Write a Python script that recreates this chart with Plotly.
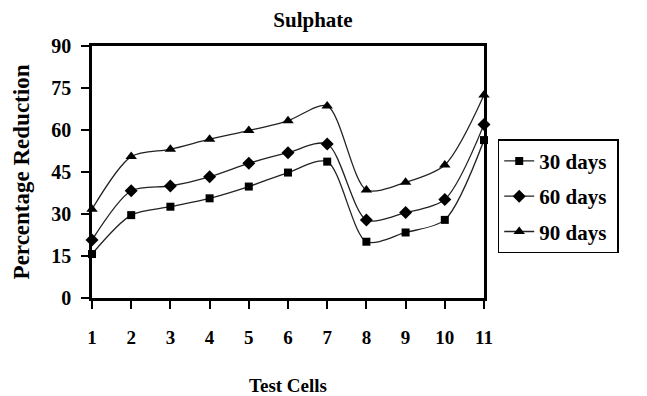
import plotly.graph_objects as go

cells = [1, 2, 3, 4, 5, 6, 7, 8, 9, 10, 11]
days30 = [15.7, 29.6, 32.6, 35.6, 39.8, 44.8, 48.7, 20.1, 23.4, 27.9, 56.4]
days60 = [20.7, 38.3, 40.0, 43.3, 48.1, 51.9, 55.0, 27.9, 30.5, 35.2, 62.0]
days90 = [31.7, 50.5, 53.1, 56.7, 59.8, 63.3, 68.6, 38.6, 41.3, 47.5, 72.5]
y_ticks = [0, 15, 30, 45, 60, 75, 90]

font = "Liberation Serif"
fig = go.Figure()
for name, vals, sym, sz in [("30 days", days30, "square", 8),
                            ("60 days", days60, "diamond", 10),
                            ("90 days", days90, "triangle-up", 10)]:
    fig.add_trace(go.Scatter(
        x=cells, y=vals, name=f"<b>{name}</b>&nbsp;", mode="lines+markers",
        legendgroup=name,
        line=dict(color="#222", width=1.3, shape="spline", smoothing=0.8),
        marker=dict(symbol=sym, size=sz, color="black"),
        cliponaxis=False,
    ))

fig.update_layout(
    width=647, height=396,
    margin=dict(l=92, r=163, t=46, b=98, autoexpand=False),
    paper_bgcolor="white", plot_bgcolor="white",
    font=dict(family=font, color="black"),
    title=dict(text="<b>Sulphate</b>", x=313/647, xanchor="center",
               y=1 - 20/396, yanchor="middle", font=dict(size=21, family=font)),
    showlegend=True,
    legend=dict(x=1.035, y=0.63, xanchor="left", yanchor="top",
                bordercolor="black", borderwidth=1.5,
                font=dict(size=21, family=font), tracegroupgap=5,
                itemwidth=30),
    xaxis=dict(range=[1, 11], tickvals=cells, ticktext=[f"<b>{c}</b>" for c in cells],
               ticks="outside", ticklen=8, tickwidth=2, tickcolor="black",
               showline=True, linecolor="black", linewidth=2.5, mirror=True,
               showgrid=False, zeroline=False, ticklabelstandoff=12, automargin=False,
               tickfont=dict(size=19, family=font),
               title=dict(text="<b>Test Cells</b>", font=dict(size=19, family=font), standoff=34)),
    yaxis=dict(range=[0, 90], tickvals=y_ticks, ticktext=[f"<b>{t}</b>" for t in y_ticks],
               ticks="outside", ticklen=8, tickwidth=2, tickcolor="black",
               showline=True, linecolor="black", linewidth=2.5, mirror=True,
               showgrid=False, zeroline=False, ticklabelstandoff=6, automargin=False,
               tickfont=dict(size=20, family=font),
               title=dict(text="<b>Percentage Reduction</b>", font=dict(size=23, family=font), standoff=16)),
)
fig.write_html("out.html")
